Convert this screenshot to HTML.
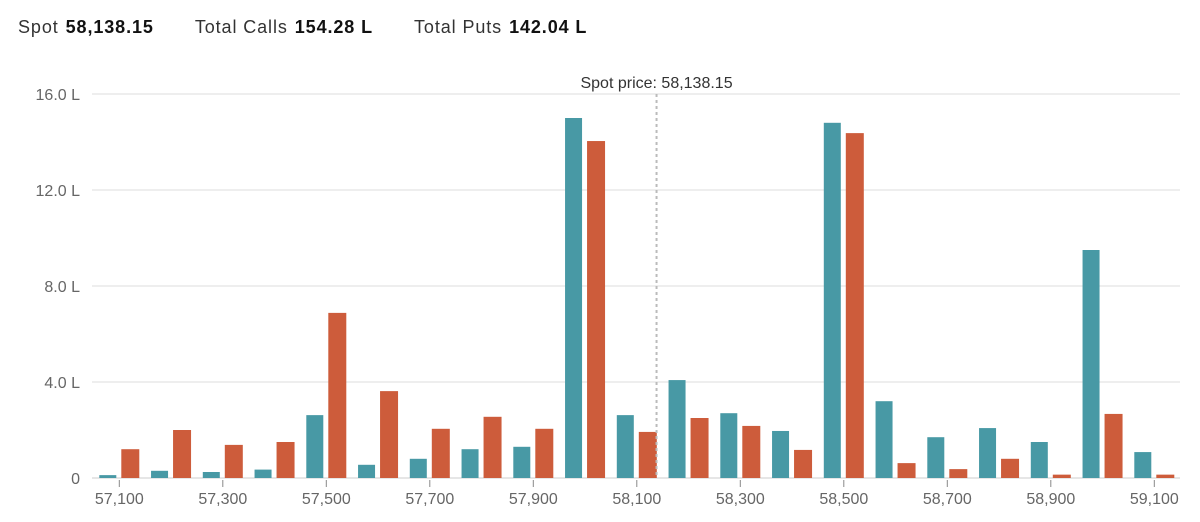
<!DOCTYPE html>
<html><head><meta charset="utf-8"><style>
body{margin:0;background:#fff;font-family:"Liberation Sans",sans-serif;}
#hdr{position:absolute;left:18px;top:17px;font-size:18px;color:#333;white-space:nowrap;letter-spacing:0.9px}
#hdr span.k{margin-right:7px}
#hdr b{color:#111;margin-right:41px}
</style></head><body>
<div id="hdr">
<span class="k">Spot</span><b>58,138.15</b><span class="k">Total Calls</span><b>154.28 L</b><span class="k">Total Puts</span><b>142.04 L</b>
</div>
<svg id="chart" width="1200" height="522" style="position:absolute;left:0;top:0"></svg>
<script>
const strikes=[57100,57200,57300,57400,57500,57600,57700,57800,57900,58000,58100,58200,58300,58400,58500,58600,58700,58800,58900,59000,59100];
const calls=[0.12,0.3,0.25,0.35,2.62,0.55,0.8,1.2,1.3,15.0,2.62,4.08,2.7,1.96,14.8,3.2,1.7,2.08,1.5,9.5,1.08];
const puts=[1.2,2.0,1.38,1.5,6.88,3.62,2.05,2.55,2.05,14.04,1.92,2.5,2.17,1.17,14.37,0.62,0.37,0.8,0.14,2.67,0.14];
const yTicks=[0,4,8,12,16];
const yTickLabels=["0","4.0 L","8.0 L","12.0 L","16.0 L"];
const xTicks=[57100,57300,57500,57700,57900,58100,58300,58500,58700,58900,59100];
const spot=58138.15;
const NS="http://www.w3.org/2000/svg";
const svg=document.getElementById('chart');
const x=v=>119.3+(v-57100)*0.5175;
const y=v=>478-v*24;
function mk(t,a){const e=document.createElementNS(NS,t);for(const k in a)e.setAttribute(k,a[k]);svg.appendChild(e);return e;}
yTicks.forEach((t,i)=>{
 const g=mk('line',{x1:92,x2:1180,y1:y(t),y2:y(t),stroke:i==0?'#ccc':'#ddd','stroke-width':1});
 
 
 const l=mk('text',{x:80,y:y(t)+6,'text-anchor':'end','font-size':16,fill:'#666'});
 l.textContent=yTickLabels[i];
 
 
});
xTicks.forEach(t=>{
 const k=mk('line',{x1:x(t),x2:x(t),y1:480,y2:487,stroke:'#888','stroke-width':1});
 
 
 const l=mk('text',{x:x(t),y:504,'text-anchor':'middle','font-size':16,fill:'#666'});
 l.textContent=t.toLocaleString('en-US');
 
 
});
strikes.forEach((s,i)=>{
 const c=mk('rect',{x:x(s)-20,y:y(calls[i]),width:17,height:478-y(calls[i]),fill:'#4899a5'});
 
 
 const p=mk('rect',{x:x(s)+2,y:y(puts[i]),width:18,height:478-y(puts[i]),fill:'#cd5c3b'});
 
 
});
const sl=mk('line',{x1:x(spot),x2:x(spot),y1:94,y2:478,stroke:'#bbb','stroke-width':2,'stroke-dasharray':'3,3'});


const st=mk('text',{x:x(spot),y:88,'text-anchor':'middle','font-size':16,fill:'#333'});
st.textContent='Spot price: 58,138.15';


</script>
</body></html>
